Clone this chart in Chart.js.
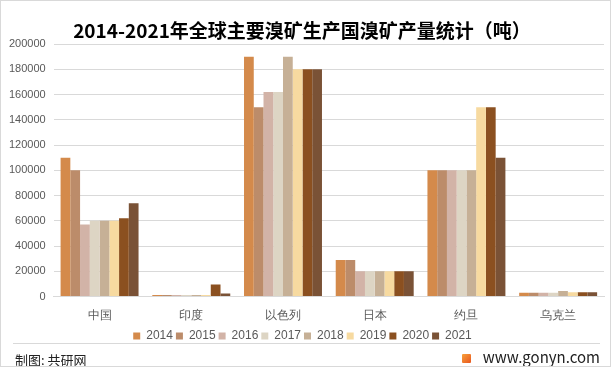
<!DOCTYPE html>
<html>
<head>
<meta charset="utf-8">
<script src="https://cdn.jsdelivr.net/npm/chart.js@4"></script>
<style>
  body { margin:0; background:#fff; font-family:"Microsoft YaHei","Noto Sans CJK SC",sans-serif; }
  #wrap { position:relative; width:609px; height:365px; border:1px solid #d9d9d9; overflow:hidden; }
  #title { position:absolute; left:0; width:602px; top:15px; text-align:center; font-size:19px; font-weight:bold; color:#000; }
  #box { position:absolute; left:0; top:0; width:609px; height:351px; }
  #sep { position:absolute; left:12px; right:10px; top:342px; border-top:1px solid #d9d9d9; }
  #src { position:absolute; left:14px; top:349px; font-size:13px; color:#222; }
  #site { position:absolute; right:10px; top:345px; font-size:15px; color:#222; }
  #logo { display:inline-block; width:9px; height:9px; background:linear-gradient(135deg,#f7a13b,#e8561f); border-radius:1px; vertical-align:0px; margin-right:12px; }
</style>
</head>
<body>
<div id="wrap">
  <div id="box"><canvas id="c"></canvas></div>
  <div id="title">2014-2021年全球主要溴矿生产国溴矿产量统计（吨）</div>
  <div id="sep"></div>
  <div id="src">制图: 共研网</div>
  <div id="site"><span id="logo"></span>www.gonyn.com</div>
</div>
<script>
// categories and yearly series (tonnes)
const countries = ['中国', '印度', '以色列', '日本', '约旦', '乌克兰'];
const years = ['2014', '2015', '2016', '2017', '2018', '2019', '2020', '2021'];
const colors = ['#D48A4B', '#BC8C6A', '#D2B3A7', '#DDD5C4', '#C6B096', '#F7DAA0', '#8B5020', '#7A5236'];

const v2014 = [110000, 1300, 190000, 29000, 100000, 3000];
const v2015 = [100000, 1300, 150000, 29000, 100000, 3000];
const v2016 = [57000, 1300, 162000, 20000, 100000, 3000];
const v2017 = [60000, 1300, 162000, 20000, 100000, 3000];
const v2018 = [60000, 1300, 190000, 20000, 100000, 4500];
const v2019 = [60000, 1300, 180000, 20000, 150000, 3500];
const v2020 = [62000, 9500, 180000, 20000, 150000, 3500];
const v2021 = [74000, 2500, 180000, 20000, 110000, 3500];
const series = [v2014, v2015, v2016, v2017, v2018, v2019, v2020, v2021];

const yTicks = [0, 20000, 40000, 60000, 80000, 100000, 120000, 140000, 160000, 180000, 200000];

new Chart(document.getElementById('c'), {
  type: 'bar',
  data: {
    labels: countries,
    datasets: series.map((s, i) => ({
      label: years[i],
      data: s,
      backgroundColor: colors[i],
      categoryPercentage: 0.85,
      barPercentage: 1.0
    }))
  },
  options: {
    responsive: true,
    maintainAspectRatio: false,
    animation: false,
    layout: { padding: { top: 43, right: 6, left: 0, bottom: 0 } },
    plugins: {
      legend: {
        position: 'bottom',
        labels: { boxWidth: 7, boxHeight: 7, padding: 3, color: '#595959', font: { size: 12 } }
      },
      tooltip: { enabled: false }
    },
    scales: {
      x: {
        grid: { display: false },
        border: { color: '#d9d9d9' },
        ticks: { color: '#595959', font: { size: 12 }, padding: 4 }
      },
      y: {
        min: 0, max: 200000,
        afterBuildTicks: axis => { axis.ticks = yTicks.map(v => ({ value: v })); },
        grid: { color: '#d9d9d9', drawTicks: false },
        border: { display: false },
        ticks: { color: '#595959', font: { size: 11 }, padding: 8, callback: v => String(v) }
      }
    }
  }
});
</script>
</body>
</html>
